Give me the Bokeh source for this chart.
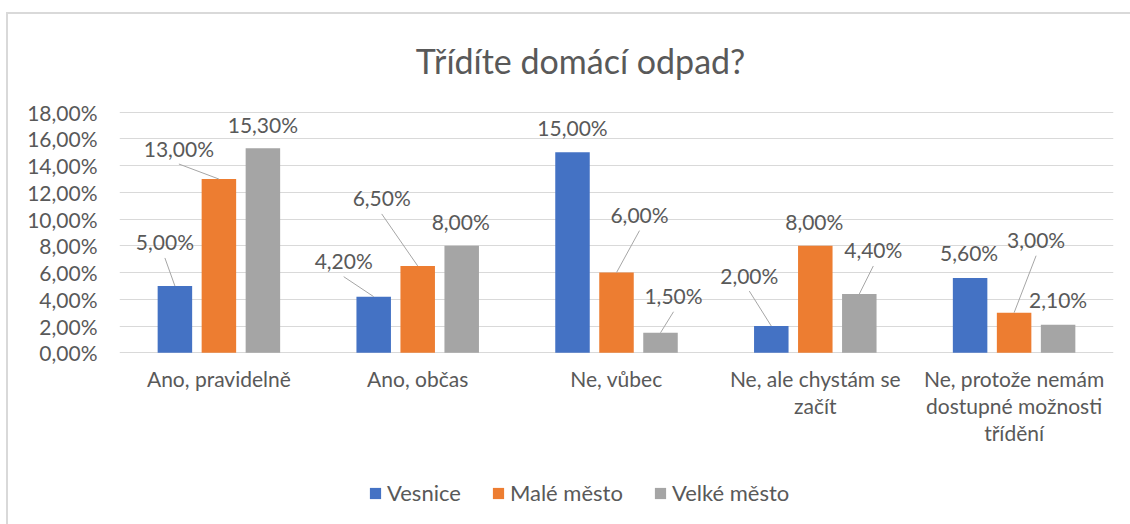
from bokeh.plotting import figure
from bokeh.models import Range1d, FixedTicker, Legend, LegendItem, ColumnDataSource, Label
from bokeh.core.properties import value
from bokeh.embed import file_html
from bokeh.resources import INLINE

# ---------------- data ----------------
title_text = "Třídíte domácí odpad?"
categories = [
    "Ano, pravidelně",
    "Ano, občas",
    "Ne, vůbec",
    "Ne, ale chystám se\nzačít",
    "Ne, protože nemám\ndostupné možnosti\ntřídění",
]
series_names = ["Vesnice", "Malé město", "Velké město"]
vesnice = [5.0, 4.2, 15.0, 2.0, 5.6]
male_mesto = [13.0, 6.5, 6.0, 8.0, 3.0]
velke_mesto = [15.3, 8.0, 1.5, 4.4, 2.1]
y_ticks = [0, 2, 4, 6, 8, 10, 12, 14, 16, 18]
y_tick_labels = ["0,00%", "2,00%", "4,00%", "6,00%", "8,00%", "10,00%",
                 "12,00%", "14,00%", "16,00%", "18,00%"]

# ---------------- styles / positions ----------------
colors = ["#4472C4", "#ED7D31", "#A5A5A5"]
TEXT = "#595959"
FONT = "Lato"
FS = "21px"
FRAME_W, FRAME_H = 994, 510
Y_TOP_PX, Y_ZERO_PX = 97.7, 338.3      # pixel rows of the 18 % and 0 % lines inside the frame
PXY = (Y_ZERO_PX - Y_TOP_PX) / 18.0
Y_MAX = 18.0 + Y_TOP_PX / PXY
Y_MIN = -(FRAME_H - Y_ZERO_PX) / PXY
PXX = FRAME_W / 5.0
BAR_W = 34.5 / PXX
BAR_OFF = 44.0 / PXX
# data label pixel offsets relative to bar top centre
label_dx = [[-10, -30, 0, -22, -1], [-40, -36, 23, -1, 22], [0, -1, 13, 14, 0]]
label_dy = [[-44, -36, -25, -51, -25], [-31, -68, -58, -24, -73], [-24, -24, -37, -44, -25]]
has_leader = [[1, 1, 0, 1, 0], [1, 1, 1, 0, 1], [0, 0, 1, 1, 0]]

p = figure(
    frame_width=FRAME_W, frame_height=FRAME_H,
    min_border_left=111, min_border_right=17, min_border_top=0, min_border_bottom=0,
    x_range=Range1d(0, 5), y_range=Range1d(Y_MIN, Y_MAX),
    output_backend="svg", toolbar_location=None,
    background_fill_color="white", border_fill_color="white",
)
p.margin = (12, 0, 0, 6)
p.styles = {"border-top": "2px solid #D9D9D9", "border-left": "2px solid #D9D9D9"}
p.outline_line_color = None
p.xgrid.grid_line_color = None
p.ygrid.grid_line_color = "#D9D9D9"
p.ygrid.grid_line_width = 1
p.ygrid.ticker = FixedTicker(ticks=y_ticks)
p.xaxis.visible = False

yax = p.yaxis[0]
yax.ticker = FixedTicker(ticks=y_ticks)
yax.major_label_overrides = {t: l for t, l in zip(y_ticks, y_tick_labels)}
yax.axis_line_color = None
yax.major_tick_line_color = None
yax.minor_tick_line_color = None
yax.major_tick_out = 0
yax.major_tick_in = 0
yax.major_label_standoff = 22
yax.major_label_text_font = FONT
yax.major_label_text_font_size = FS
yax.major_label_text_color = TEXT

# category labels below the zero line
x_centers = [i + 0.5 for i in range(len(categories))]
p.text(x=x_centers, y=[0] * len(categories), text=categories, y_offset=13,
       text_align="center", text_baseline="top", text_line_height=1.08,
       text_font=value(FONT), text_font_size=FS, text_color=TEXT)

series = [vesnice, male_mesto, velke_mesto]
renderers = []
for s, vals in enumerate(series):
    xs = [c + (s - 1) * BAR_OFF for c in x_centers]
    labels = [("%.2f" % v).replace(".", ",") + "%" for v in vals]
    src = ColumnDataSource(dict(x=xs, top=vals, text=labels,
                                dx=label_dx[s], dy=label_dy[s]))
    r = p.vbar(x="x", top="top", width=BAR_W, bottom=0, source=src,
               fill_color=colors[s], line_color=None)
    renderers.append(r)
    x0, y0, x1, y1 = [], [], [], []
    for i, v in enumerate(vals):
        if has_leader[s][i]:
            x0.append(xs[i] + label_dx[s][i] / PXX)
            y0.append(v - (label_dy[s][i] + 16) / PXY)
            x1.append(xs[i])
            y1.append(v)
    p.segment(x0=x0, y0=y0, x1=x1, y1=y1, line_color="#A6A6A6", line_width=1)
    p.text(x="x", y="top", text="text", x_offset="dx", y_offset="dy", source=src,
           text_align="center", text_baseline="middle",
           text_font=value(FONT), text_font_size=FS, text_color=TEXT)

# chart title
p.add_layout(Label(x=461, y=464, x_units="screen", y_units="screen", text=title_text,
                   text_align="center", text_baseline="middle",
                   text_font=FONT, text_font_size="34px", text_color=TEXT))

legend = Legend(
    items=[LegendItem(label=n, renderers=[r]) for n, r in zip(series_names, renderers)],
    orientation="horizontal", location=(249, 18),
    glyph_width=14, glyph_height=14, label_standoff=5, spacing=30,
    padding=0, margin=0, border_line_color=None, background_fill_alpha=0,
    label_text_font=FONT, label_text_font_size="22px", label_text_color=TEXT,
)
p.add_layout(legend, "center")

open("out.html", "w").write(file_html(p, INLINE))
